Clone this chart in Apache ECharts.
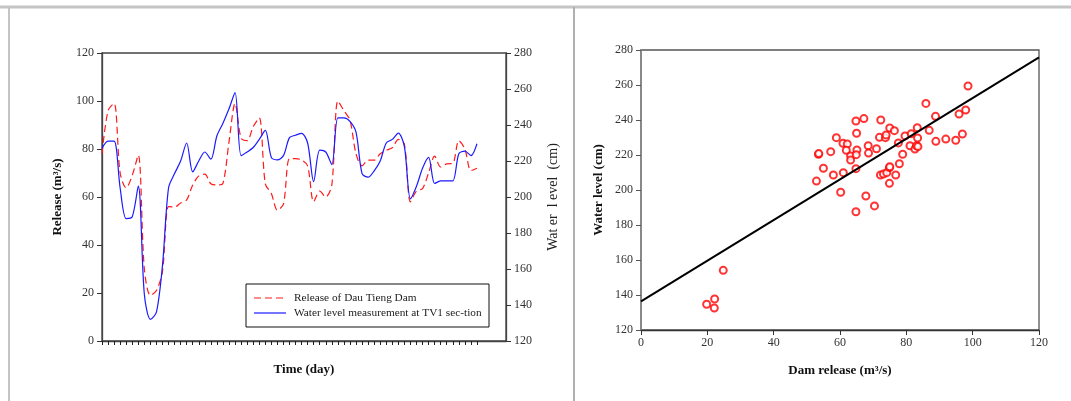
<!DOCTYPE html>
<html>
<head>
<meta charset="utf-8">
<script src="https://cdn.jsdelivr.net/npm/echarts@6/dist/echarts.min.js"></script>
<style>
  html, body { margin: 0; padding: 0; background: #fff; }
  #chart { width: 1071px; height: 401px; }
</style>
</head>
<body>
<div id="chart"></div>
<script>
// Daily series (left panel)
const days = [1,2,3,4,5,6,7,8,9,10,11,12,13,14,15,16,17,18,19,20,21,22,23,24,25,26,27,28,29,30,
  31,32,33,34,35,36,37,38,39,40,41,42,43,44,45,46,47,48,49,50,51,52,53,54,55,56,57,58,59,60,61,62,63];
// Release of Dau Tieng Dam (m3/s)
const release = [78,96,99,70,63.8,69,77.5,30,19,21,29,56,55.8,57.5,58.8,65,68.8,69.5,65.5,65,
  65.7,83,99,84.5,83.5,89.3,93,65.5,61.5,54.5,57,76,76,75.4,73,58,62.5,60,65,100,
  96,92,78,73,75.4,75.4,78,79.5,80.5,84,82,58,62.5,63.5,70,77,72.5,73.8,74,83.5,
  80,71,72];
// Water level at TV1 section (cm)
const waterLevel = [227,231,231,205,188,189,206,146,132,136,162,205,213,220,230,214,220,225,221,234,
  241,249,258,223,225,227.5,232,237,222,220.6,223,233,234.3,235.4,230,208.5,226,225,218,244,
  244,242,236,213,211,214.5,220,230,232,235.5,228,199,206,216,222,207.5,209,209,209,224,
  225.5,223,229.6];
const seriesNames = ['Release of Dau Tieng Dam', 'Water level measurement at TV1 sec-tion'];

// Paired observations (right panel)
const damRelease = [19.8,22.2,22.1,24.8,52.9,53.5,53.6,55.0,57.2,58.0,58.9,60.2,60.9,61.0,62.2,61.9,
  63.2,63.2,64.8,65.0,65.1,64.9,64.8,64.8,67.2,67.8,68.5,68.6,70.4,71.0,72.3,71.9,72.2,73.1,
  73.7,73.9,74.1,74.9,75.0,74.9,75.0,76.4,76.8,77.6,77.9,78.9,79.6,81.1,81.5,82.6,83.1,83.5,
  83.3,83.4,85.9,86.9,88.8,88.9,91.9,94.9,95.9,96.9,97.9,98.6];
const levelObs = [134.7,137.7,132.6,154.1,205.1,220.4,220.8,212.4,221.9,208.6,229.9,198.7,226.7,209.9,
  226.3,222.7,219.4,217.1,239.4,232.4,222.9,220.2,212.2,187.6,240.8,196.6,225.3,221.1,190.9,223.6,
  240.0,230.1,208.6,209.1,229.9,231.4,209.9,212.8,213.3,203.8,235.4,233.9,208.6,226.9,215.0,220.4,
  230.9,225.3,232.2,223.4,225.3,224.8,235.6,229.7,249.5,234.1,242.1,227.8,229.1,228.4,243.4,232.0,
  245.7,259.4];

// Linear fit: level = intercept + slope * release
const fitIntercept = 136.3;
const fitSlope = 1.162;
const fitRange = [0, 120];

const serif = '"Liberation Serif", "Times New Roman", serif';
const labelStyle = { fontFamily: serif, fontSize: 12, color: '#333' };
const nameStyle = { fontFamily: serif, fontSize: 13, fontWeight: 'bold', color: '#111' };
const releaseColor = '#ff1a1a';
const levelColor = '#1a1aff';

const chart = echarts.init(document.getElementById('chart'), null, { renderer: 'canvas' });

// boxed key in the lower right of the time-series panel
const keyBox = { x: 246, y: 284, w: 243, h: 43 };
const keyGraphics = [
  { type: 'rect', shape: { x: keyBox.x, y: keyBox.y, width: keyBox.w, height: keyBox.h },
    style: { fill: '#fff', stroke: '#111', lineWidth: 1 }, z: 10 },
  { type: 'line', shape: { x1: keyBox.x + 8, y1: keyBox.y + 14, x2: keyBox.x + 40, y2: keyBox.y + 14 },
    style: { stroke: releaseColor, lineWidth: 1.2, lineDash: [7, 4] }, z: 11 },
  { type: 'line', shape: { x1: keyBox.x + 8, y1: keyBox.y + 29, x2: keyBox.x + 40, y2: keyBox.y + 29 },
    style: { stroke: levelColor, lineWidth: 1.2 }, z: 11 },
  { type: 'text', x: keyBox.x + 48, y: keyBox.y + 14,
    style: { text: seriesNames[0], font: '11.3px ' + serif, fill: '#222', verticalAlign: 'middle' }, z: 11 },
  { type: 'text', x: keyBox.x + 48, y: keyBox.y + 29,
    style: { text: seriesNames[1], font: '11.3px ' + serif, fill: '#222', verticalAlign: 'middle' }, z: 11 }
];

const option = {
  animation: false,
  backgroundColor: '#fff',
  grid: [
    { left: 102, top: 53, width: 404, height: 288, show: true, borderColor: '#444', borderWidth: 1.3, backgroundColor: 'transparent' },
    { left: 641, top: 50, width: 398, height: 280, show: true, borderColor: '#555', borderWidth: 1.3, backgroundColor: 'transparent' }
  ],
  xAxis: [
    {
      type: 'value', gridIndex: 0, min: 1, max: 67.8,
      name: 'Time (day)', nameLocation: 'middle', nameGap: 22, nameTextStyle: nameStyle,
      axisLine: { lineStyle: { color: '#444', width: 1.3 } },
      axisTick: { show: true, customValues: days, length: 4, lineStyle: { color: '#222', width: 1 } },
      axisLabel: { show: false },
      splitLine: { show: false }
    },
    {
      type: 'value', gridIndex: 1, min: 0, max: 120, interval: 20,
      name: 'Dam release (m³/s)', nameLocation: 'middle', nameGap: 34, nameTextStyle: nameStyle,
      axisLine: { lineStyle: { color: '#333', width: 1.3 } },
      axisTick: { length: 5, lineStyle: { color: '#333' } },
      axisLabel: Object.assign({ margin: 7 }, labelStyle),
      splitLine: { show: false }
    }
  ],
  yAxis: [
    {
      type: 'value', gridIndex: 0, min: 0, max: 120, interval: 20, position: 'left',
      name: 'Release (m³/s)', nameLocation: 'middle', nameGap: 38, nameTextStyle: nameStyle,
      axisLine: { show: true, lineStyle: { color: '#444', width: 1.3 } },
      axisTick: { show: true, length: 5, lineStyle: { color: '#333' } },
      axisLabel: Object.assign({ margin: 8 }, labelStyle),
      splitLine: { show: false }
    },
    {
      type: 'value', gridIndex: 0, min: 120, max: 280, interval: 20, position: 'right',
      name: 'Wat er  l evel  (cm)', nameLocation: 'middle', nameGap: 40, nameRotate: 90,
      nameTextStyle: { fontFamily: serif, fontSize: 14, color: '#222' },
      axisLine: { show: true, lineStyle: { color: '#444', width: 1.3 } },
      axisTick: { show: true, length: 5, lineStyle: { color: '#333' } },
      axisLabel: Object.assign({ margin: 8 }, labelStyle),
      splitLine: { show: false }
    },
    {
      type: 'value', gridIndex: 1, min: 120, max: 280, interval: 20,
      name: 'Water level (cm)', nameLocation: 'middle', nameGap: 36, nameTextStyle: nameStyle,
      axisLine: { show: true, lineStyle: { color: '#888', width: 2 } },
      axisTick: { show: true, length: 5, lineStyle: { color: '#555' } },
      axisLabel: Object.assign({ margin: 8 }, labelStyle),
      splitLine: { show: false }
    }
  ],
  series: [
    {
      name: seriesNames[0], type: 'line', xAxisIndex: 0, yAxisIndex: 0,
      data: days.map((d, i) => [d, release[i]]),
      smooth: 0.3, symbol: 'none', showSymbol: false,
      lineStyle: { color: releaseColor, width: 1.2, type: [7, 4] }
    },
    {
      name: seriesNames[1], type: 'line', xAxisIndex: 0, yAxisIndex: 1,
      data: days.map((d, i) => [d, waterLevel[i]]),
      smooth: 0.3, symbol: 'none', showSymbol: false,
      lineStyle: { color: levelColor, width: 1.2 }
    },
    {
      name: 'observed', type: 'scatter', xAxisIndex: 1, yAxisIndex: 2,
      data: damRelease.map((r, i) => [r, levelObs[i]]),
      symbol: 'emptyCircle', symbolSize: 7,
      itemStyle: { color: '#ff0000', borderColor: '#ff2020', borderWidth: 0.9 }
    },
    {
      name: 'fit', type: 'line', xAxisIndex: 1, yAxisIndex: 2,
      data: fitRange.map(x => [x, fitIntercept + fitSlope * x]),
      symbol: 'none', lineStyle: { color: '#000', width: 2 }
    }
  ],
  graphic: [
    { type: 'line', shape: { x1: 0, y1: 7, x2: 1071, y2: 7 }, style: { stroke: '#c4c4c4', lineWidth: 3 }, silent: true },
    { type: 'line', shape: { x1: 9, y1: 7, x2: 9, y2: 401 }, style: { stroke: '#c4c4c4', lineWidth: 2 }, silent: true },
    { type: 'line', shape: { x1: 574, y1: 7, x2: 574, y2: 401 }, style: { stroke: '#b0b0b0', lineWidth: 2 }, silent: true }
  ].concat(keyGraphics)
};

chart.setOption(option);
</script>
</body>
</html>
